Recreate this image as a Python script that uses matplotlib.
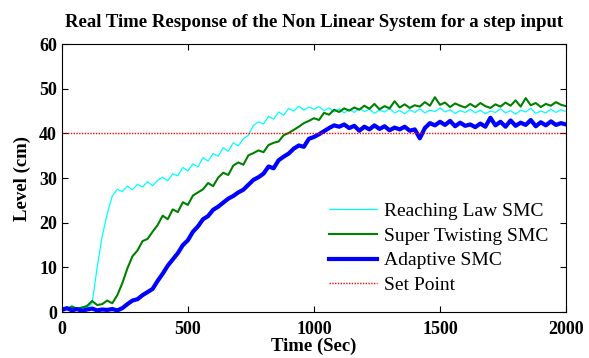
import numpy as np
import matplotlib
matplotlib.use("Agg")
import matplotlib.pyplot as plt

plt.rcParams['font.family'] = ['Liberation Serif', 'DejaVu Serif']

time = np.arange(0, 2001, 20)

reaching = [1.2, 0.8, 1.5, 0.6, 1.3, 0.9, 2.0, 10, 17, 22,
            26, 27.5, 27, 28.2, 27.4, 28.6, 28, 29.2, 28.3, 29.5,
            30.2, 29.4, 31, 30.5, 32.4, 31.6, 33.2, 32.5, 34.6, 33.8,
            35.5, 34.9, 36.8, 36, 37.9, 37.2, 38.8, 39.6, 41.8, 42.6,
            42.1, 43.8, 43.2, 44.8, 44.1, 45.6, 45, 46.1, 45.2, 45.9,
            45.4, 46, 45.1, 45.7, 44.8, 45.5, 44.6, 45.3, 44.7, 45.6,
            44.9, 45.4, 44.5, 45.2, 44.8, 45.6, 44.6, 45.1, 44.4, 45.3,
            44.7, 45.5, 44.6, 45.2, 44.9, 45.7, 44.8, 45.3, 44.5, 45.1,
            44.7, 45.4, 44.6, 45.2, 44.4, 45.0, 44.7, 45.5, 44.6, 45.1,
            44.3, 45.2, 44.8, 45.6, 44.5, 45.0, 44.6, 45.4, 44.7, 45.3,
            44.9]

super_twisting = [1.0, 0.7, 1.2, 0.8, 1.0, 1.4, 2.5, 1.6, 1.8, 2.6,
                  2.0, 3.8, 6.5, 9.8, 12.5, 13.8, 15.9, 16.4, 18.0, 19.5,
                  21.6, 20.8, 23.0, 22.4, 24.6, 24.0, 26.1, 26.8, 27.5, 28.9,
                  28.2, 30.1, 31.2, 30.7, 32.8, 33.5, 33.0, 35.1, 35.6, 36.2,
                  35.8, 37.4, 37.9, 38.2, 39.6, 40.1, 40.8, 41.5, 42.3, 42.8,
                  43.4, 43.0, 44.6, 44.2, 45.3, 44.8, 45.6, 45.1, 45.8, 45.3,
                  46.2, 45.5, 46.6, 45.4, 46.1, 45.6, 47.2, 45.8, 46.5, 45.7,
                  46.3, 46.0, 47.0, 46.2, 48.1, 46.4, 46.9, 45.9, 46.7, 46.2,
                  45.8, 46.6, 45.9, 46.8, 46.1, 45.7, 46.5, 46.0, 46.9, 46.2,
                  47.4, 46.0, 47.9, 46.3, 46.8, 45.9, 46.6, 46.2, 47.0, 46.4,
                  46.1]

adaptive = [0.5, 0.9, 0.4, 0.7, 0.3, 0.6, 0.8, 0.4, 0.6, 0.5,
            0.7, 0.4, 0.9, 1.8, 2.6, 2.9, 3.8, 4.5, 5.2, 7.0,
            8.6, 10.4, 11.8, 13.2, 15.0, 16.1, 18.0, 19.2, 20.8, 21.5,
            22.9, 23.6, 24.5, 25.4, 26.0, 26.8, 27.4, 28.5, 29.6, 30.2,
            31.0, 32.6, 32.2, 34.0, 34.8, 35.5, 36.6, 37.3, 37.0, 38.8,
            39.2, 39.8, 40.5, 41.2, 41.8, 41.5, 42.0, 41.2, 41.7, 40.6,
            41.5, 40.9, 41.8, 41.0, 41.6, 40.7, 41.3, 40.9, 41.5, 40.6,
            40.9, 38.9, 41.2, 42.3, 41.8, 42.6, 41.9, 42.8, 41.6, 42.4,
            41.7, 42.0, 41.4, 42.2, 41.5, 43.5, 41.8, 42.6, 41.5, 42.9,
            41.7, 42.4, 41.9, 43.0, 41.6, 42.5, 41.8, 42.7, 41.9, 42.3,
            42.0]

set_point = 40

x_ticks = [0, 500, 1000, 1500, 2000]
y_ticks = [0, 10, 20, 30, 40, 50, 60]

fig = plt.figure(figsize=(5.89, 3.58), dpi=100)
ax = fig.add_axes([0.105, 0.128, 0.856, 0.749])

ax.plot(time, reaching, color='#00ffff', lw=0.9, label='Reaching Law SMC')
ax.plot(time, super_twisting, color='#008000', lw=1.5, label='Super Twisting SMC')
ax.plot(time, adaptive, color='#0000ff', lw=3.0, label='Adaptive SMC')
ax.axhline(set_point, color='#ff0000', lw=1.0, ls=(0, (1, 1)), label='Set Point')

ax.set_xlim(0, 2000)
ax.set_ylim(0, 60)
ax.set_xticks(x_ticks)
ax.set_yticks(y_ticks)
ax.tick_params(direction='in', top=True, right=True, length=4, width=0.8,
               labelsize=13)
ax.tick_params(axis='x', pad=6)
for lbl in ax.get_xticklabels() + ax.get_yticklabels():
    lbl.set_fontweight('bold')

ax.set_xlabel('Time (Sec)', fontsize=13.5, fontweight='bold', labelpad=0)
ax.set_ylabel('Level (cm)', fontsize=13.5, fontweight='bold', labelpad=6)
ax.set_title('Real Time Response of the Non Linear System for a step input',
             fontsize=13.5, fontweight='bold', pad=12)

leg = ax.legend(loc='lower left', bbox_to_anchor=(0.514, 0.038), frameon=False,
                fontsize=14, handlelength=2.5, labelspacing=0.37,
                handletextpad=0.35, borderaxespad=0)

fig.savefig('out.png', dpi=100)
